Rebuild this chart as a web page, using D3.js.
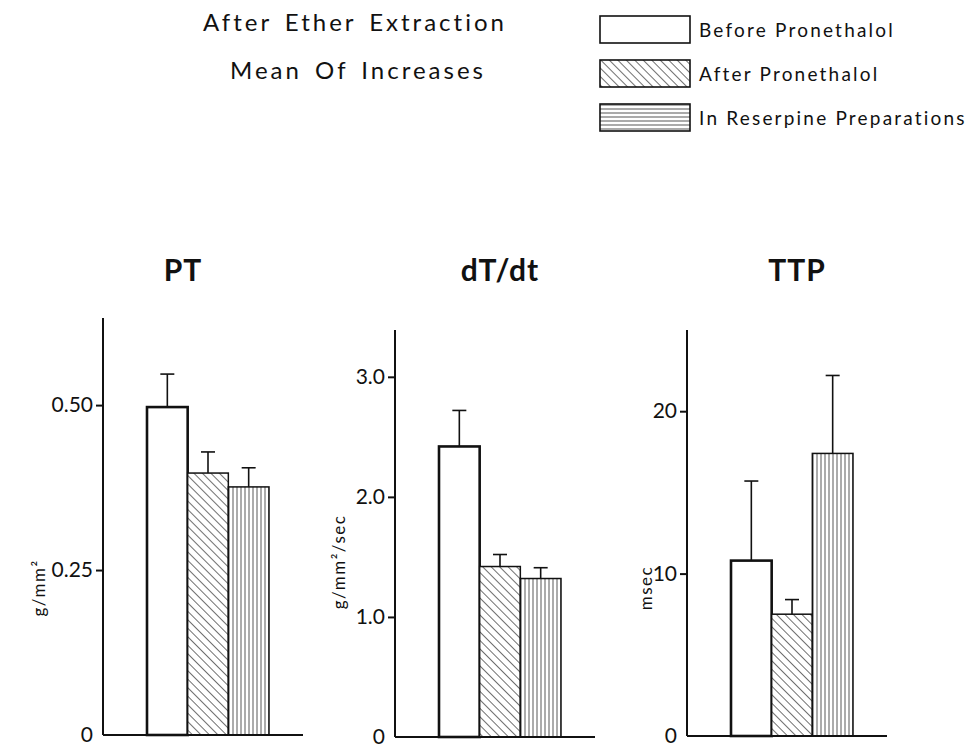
<!DOCTYPE html>
<html>
<head>
<meta charset="utf-8">
<script src="https://cdn.jsdelivr.net/npm/d3@7"></script>
<style>
    body { margin: 0; background: #fff; }
    svg { font-family: "Lato", "DejaVu Sans", sans-serif; }
    .axis path, .axis line { stroke: #111; stroke-width: 2; }
</style>
</head>
<body>
<svg width="978" height="749"></svg>
<script>
// conditions (legend order)
var groups = ["Before Pronethalol", "After Pronethalol", "In Reserpine Preparations"];

// panel titles, units
var panels = ["PT", "dT/dt", "TTP"];
var units = ["g/mm²", "g/mm²/sec", "msec"];

// means and upper error (SEM)
var ptMean = [0.497, 0.397, 0.376];
var ptErr = [0.050, 0.032, 0.029];
var dtMean = [2.42, 1.42, 1.32];
var dtErr = [0.30, 0.10, 0.09];
var ttpMean = [10.8, 7.5, 17.4];
var ttpErr = [4.9, 0.9, 4.8];

// ticks
var ptTicks = [0, 0.25, 0.5];
var ptLabels = ["0", "0.25", "0.50"];
var dtTicks = [0, 1, 2, 3];
var dtLabels = ["0", "1.0", "2.0", "3.0"];
var ttpTicks = [0, 10, 20];
var ttpLabels = ["0", "10", "20"];

window.onload = main;

function main() {
    var svg = d3.select("svg");
    var defs = svg.append("defs");

    // diagonal hatch
    var p1 = defs.append("pattern")
        .attr("id", "diag")
        .attr("patternUnits", "userSpaceOnUse")
        .attr("width", 6).attr("height", 6)
        .attr("patternTransform", "rotate(-45)");
    p1.append("rect").attr("width", 6).attr("height", 6).attr("fill", "#fff");
    p1.append("line").attr("x1", 0).attr("y1", 0).attr("x2", 0).attr("y2", 6)
        .attr("stroke", "#222").attr("stroke-width", 1.3);

    // vertical stripes
    var p2 = defs.append("pattern")
        .attr("id", "vert")
        .attr("patternUnits", "userSpaceOnUse")
        .attr("width", 4).attr("height", 4);
    p2.append("rect").attr("width", 4).attr("height", 4).attr("fill", "#fff");
    p2.append("line").attr("x1", 1).attr("y1", 0).attr("x2", 1).attr("y2", 4)
        .attr("stroke", "#666").attr("stroke-width", 1.1);

    // horizontal stripes (legend only)
    var p3 = defs.append("pattern")
        .attr("id", "horiz")
        .attr("patternUnits", "userSpaceOnUse")
        .attr("width", 5).attr("height", 4);
    p3.append("rect").attr("width", 5).attr("height", 4).attr("fill", "#fff");
    p3.append("line").attr("x1", 0).attr("y1", 1).attr("x2", 5).attr("y2", 1)
        .attr("stroke", "#555").attr("stroke-width", 1);

    var fills = ["#fff", "url(#diag)", "url(#vert)"];
    var legendFills = ["#fff", "url(#diag)", "url(#horiz)"];

    // titles
    svg.append("text").attr("x", 355).attr("y", 31)
        .attr("text-anchor", "middle").attr("font-size", 24)
        .attr("letter-spacing", 3).attr("word-spacing", 4).attr("fill", "#111")
        .text("After Ether Extraction");
    svg.append("text").attr("x", 358).attr("y", 79)
        .attr("text-anchor", "middle").attr("font-size", 24)
        .attr("letter-spacing", 3).attr("word-spacing", 4).attr("fill", "#111")
        .text("Mean Of Increases");

    // legend
    var legend = svg.append("g").attr("transform", "translate(600,16)");
    var item = legend.selectAll("g").data(groups).enter().append("g")
        .attr("transform", (d, i) => "translate(0," + i * 44 + ")");
    item.append("rect")
        .attr("width", 90).attr("height", 27)
        .attr("fill", (d, i) => legendFills[i])
        .attr("stroke", "#111").attr("stroke-width", 1.6);
    item.append("text")
        .attr("x", 99).attr("y", 21)
        .attr("font-size", 19).attr("letter-spacing", 2.2)
        .attr("fill", "#111")
        .text(d => d);

    var configs = [
        { mean: ptMean, err: ptErr, ticks: ptTicks, labels: ptLabels, x0: 103, top: 318, zero: 735, max: 0.632, tx: 80, lx: 45, ly: 588 },
        { mean: dtMean, err: dtErr, ticks: dtTicks, labels: dtLabels, x0: 395, top: 330, zero: 737, max: 3.39, tx: 105, lx: 345, ly: 562 },
        { mean: ttpMean, err: ttpErr, ticks: ttpTicks, labels: ttpLabels, x0: 687, top: 330, zero: 736, max: 25, tx: 110, lx: 652, ly: 588 }
    ];

    configs.forEach(function (c, k) {
        var g = svg.append("g");
        var y = d3.scaleLinear().domain([0, c.max]).range([c.zero, c.top]);
        var x = d3.scaleBand().domain(groups)
            .range([c.x0 + 44, c.x0 + 166]).padding(0);

        // panel title
        g.append("text")
            .attr("x", c.x0 + c.tx).attr("y", 281)
            .attr("text-anchor", "middle")
            .attr("font-size", 30).attr("font-weight", "bold")
            .attr("letter-spacing", 1)
            .attr("fill", "#111")
            .text(panels[k]);

        // bars
        g.selectAll("rect.bar").data(c.mean).enter().append("rect")
            .attr("class", "bar")
            .attr("x", (d, i) => x(groups[i]))
            .attr("y", d => y(d))
            .attr("width", x.bandwidth())
            .attr("height", d => c.zero - y(d))
            .attr("fill", (d, i) => fills[i])
            .attr("stroke", "#111")
            .attr("stroke-width", (d, i) => i === 0 ? 2.6 : 1.5);

        // error bars (upper only)
        var eb = g.selectAll("g.err").data(c.mean).enter().append("g").attr("class", "err");
        eb.append("line")
            .attr("x1", (d, i) => x(groups[i]) + x.bandwidth() / 2)
            .attr("x2", (d, i) => x(groups[i]) + x.bandwidth() / 2)
            .attr("y1", d => y(d))
            .attr("y2", (d, i) => y(d + c.err[i]))
            .attr("stroke", "#111").attr("stroke-width", 1.6);
        eb.append("line")
            .attr("x1", (d, i) => x(groups[i]) + x.bandwidth() / 2 - 7)
            .attr("x2", (d, i) => x(groups[i]) + x.bandwidth() / 2 + 7)
            .attr("y1", (d, i) => y(d + c.err[i]))
            .attr("y2", (d, i) => y(d + c.err[i]))
            .attr("stroke", "#111").attr("stroke-width", 1.6);

        // x baseline
        g.append("line")
            .attr("x1", c.x0).attr("x2", c.x0 + 200)
            .attr("y1", c.zero).attr("y2", c.zero)
            .attr("stroke", "#111").attr("stroke-width", 2);

        // y axis
        var axis = d3.axisLeft(y)
            .tickValues(c.ticks)
            .tickFormat((d, i) => c.labels[i])
            .tickSize(7)
            .tickPadding(3);
        var ag = g.append("g").attr("class", "axis")
            .attr("transform", "translate(" + c.x0 + ",0)")
            .call(axis);
        ag.attr("font-size", 21).attr("font-family", null);
        ag.selectAll("text").attr("fill", "#111");
        ag.select(".domain").attr("d", "M0," + c.top + "V" + c.zero);
        ag.selectAll(".tick").filter(d => d === 0).select("line").remove();
        ag.selectAll(".tick").filter(d => d === 0).select("text").attr("x", -10);

        // unit label
        g.append("text")
            .attr("transform", "translate(" + c.lx + "," + c.ly + ") rotate(-90)")
            .attr("text-anchor", "middle")
            .attr("font-size", 17).attr("letter-spacing", 1.5)
            .attr("fill", "#111")
            .text(units[k]);
    });
}
</script>
</body>
</html>
